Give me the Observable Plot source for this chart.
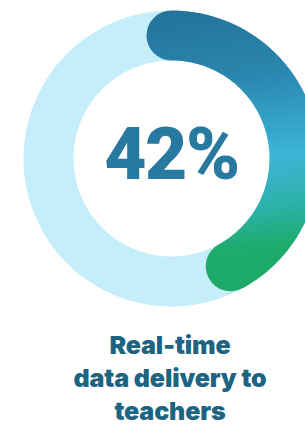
<!DOCTYPE html>
<html>
<head>
<meta charset="utf-8">
<script src="https://cdn.jsdelivr.net/npm/d3@7"></script>
<script src="https://cdn.jsdelivr.net/npm/@observablehq/plot@0.6"></script>
<style>
  html, body { margin: 0; padding: 0; background: #fff; }
  body { width: 305px; height: 425px; overflow: hidden; font-family: Inter, "Noto Sans", sans-serif; }
  #chart svg { display: block; }
  #caption {
    margin-top: 9px;
    padding-left: 35px;
    width: 270px;
    text-align: center;
    font-family: Inter, "Noto Sans", sans-serif;
    font-weight: 900;
    font-size: 25px;
    line-height: 33px;
    letter-spacing: -0.005em;
    color: #1d6482;
  }
</style>
</head>
<body>
<div id="chart"></div>
<div id="caption"></div>
<script>
// ---- data ----
const percent = 42;                 // share shown by the arc
const total = 100;                  // full ring
const valueLabel = "42%";
const captionLines = ["Real-time", "data delivery to", "teachers"];

// ---- geometry (radius units match pixels) ----
const outerR = 148, ringW = 50, midR = outerR - ringW / 2;
const toPoint = p => {
  const a = (p / total) * 2 * Math.PI;
  return {x: midR * Math.sin(a), y: midR * Math.cos(a)};
};
const ringPts = d3.range(0, total + 0.001, 0.25).map(toPoint);
const arcPts = d3.range(0, percent + 0.001, 0.25).map(toPoint);

function gradientDefs(index, scales) {
  const ns = "http://www.w3.org/2000/svg";
  const defs = document.createElementNS(ns, "defs");
  const g = document.createElementNS(ns, "linearGradient");
  g.setAttribute("id", "arcGrad");
  g.setAttribute("gradientUnits", "userSpaceOnUse");
  const sx = scales && scales.x ? scales.x : (v => 171 + v);
  const sy = scales && scales.y ? scales.y : (v => 158 - v);
  g.setAttribute("x1", sx(10));
  g.setAttribute("y1", sy(143));
  g.setAttribute("x2", sx(40));
  g.setAttribute("y2", sy(-122));
  [[0, "#24749d"], [0.25, "#2a86ae"], [0.56, "#3bb5d6"], [0.74, "#2fb1ac"], [0.9, "#1eab6b"], [1, "#1daa68"]]
    .forEach(([o, c]) => {
      const s = document.createElementNS(ns, "stop");
      s.setAttribute("offset", o);
      s.setAttribute("stop-color", c);
      g.appendChild(s);
    });
  defs.appendChild(g);
  return defs;
}

const chart = Plot.plot({
  width: 305,
  height: 320,
  margin: 0,
  x: {domain: [-outerR, outerR], range: [23, 319], axis: null},
  y: {domain: [-outerR, outerR], range: [306, 10], axis: null},
  style: {background: "#fff", overflow: "hidden"},
  marks: [
    gradientDefs,
    Plot.line(ringPts, {x: "x", y: "y", stroke: "#c5eefa", strokeWidth: ringW, strokeLinecap: "butt"}),
    Plot.line(arcPts, {x: "x", y: "y", stroke: "url(#arcGrad)", strokeWidth: ringW, strokeLinecap: "round", strokeLinejoin: "round"}),
    Plot.text([valueLabel], {
      x: () => 0, y: () => 0, text: d => d,
      fontSize: 73, fontWeight: 900, fill: "#28799f",
      fontFamily: "Roboto, Inter, sans-serif",
      dy: -3, dx: 0
    })
  ]
});
document.getElementById("chart").appendChild(chart);
const textEl = chart.querySelector("g[aria-label='text'] text");
if (textEl) textEl.style.letterSpacing = "-0.02em";

const cap = document.getElementById("caption");
captionLines.forEach(l => {
  const d = document.createElement("div");
  d.textContent = l;
  cap.appendChild(d);
});
</script>
</body>
</html>
